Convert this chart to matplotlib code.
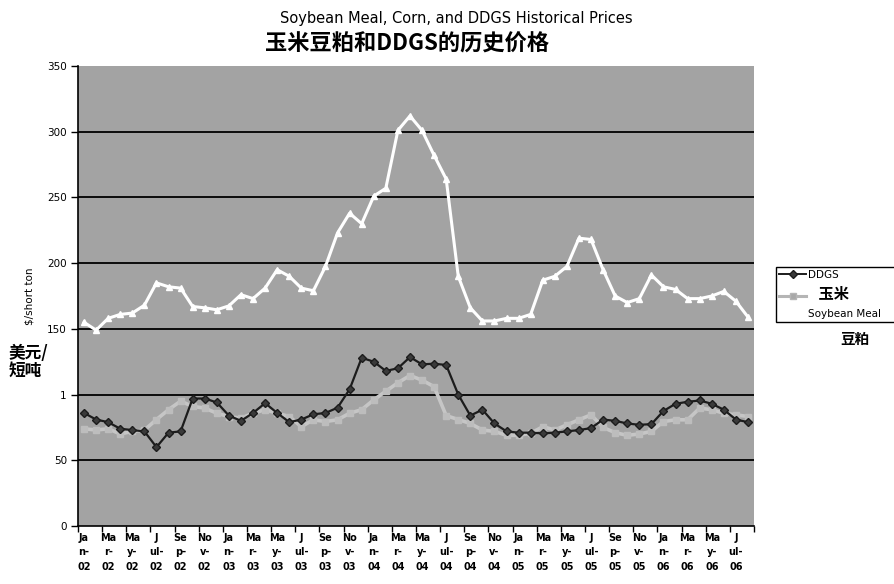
import matplotlib.pyplot as plt
import numpy as np
from matplotlib.lines import Line2D

# monthly prices, Jan-02 .. Aug-06 ($/short ton)
soybean_meal = [155, 149, 158, 161, 162, 168, 185, 182, 181, 167, 166, 164.5,
                167.5, 176, 173, 181, 195, 190, 181, 179, 197.5, 223, 238, 230,
                251, 257, 301, 312, 301, 282, 264, 190, 166, 156, 156, 158,
                158, 161, 187, 190, 197.5, 219, 218, 195, 175, 170, 173, 191,
                182, 180, 173, 173, 175, 178.5, 171, 159]
ddgs = [86, 81, 79, 74, 73, 72, 60, 71, 72, 97, 97, 94,
        84, 80, 86, 93.5, 86, 79, 81, 85, 86, 90, 104, 128,
        125, 118, 120, 128.5, 123, 123.5, 122.5, 100, 84, 88.5, 78, 72,
        71, 71, 70.5, 71, 72, 73, 74.5, 81, 80, 78, 77, 77.5,
        87.5, 93, 94.5, 95.5, 93, 88.5, 81, 79]
corn = [74, 73, 74, 70, 72, 73, 81, 88.5, 95, 91, 89.7, 85.8,
        83.3, 82, 85.8, 88.5, 85.8, 83.3, 75.6, 80.8, 79.5, 80.8, 85.8, 88.5,
        96, 102.5, 109, 114.5, 111, 106, 84, 81, 78, 73, 72, 69,
        69, 70.5, 75.6, 73, 77, 80.8, 84.6, 75, 71, 69, 70, 72,
        79.5, 80.8, 80.8, 89.7, 88.5, 85.8, 84.6, 83.3]

# wrapped month labels as they appear under the axis, one every two months
month_parts = [("Ja", "n-"), ("Ma", "r-"), ("Ma", "y-"), ("J", "ul-"), ("Se", "p-"), ("No", "v-")]
years = ["02", "03", "04", "05", "06"]
tick_labels = [f"{a}\n{b}\n{yy}" for yy in years for a, b in month_parts][:28]

y_ticks = [0, 50, 100, 150, 200, 250, 300, 350]
y_tick_labels = ["0", "50", "1", "150", "200", "250", "300", "350"]

CJK = ["Noto Sans CJK SC", "DejaVu Sans"]

fig = plt.figure(figsize=(8.94, 5.84), dpi=100)
ax = fig.add_axes([78 / 894, 58 / 584, 676 / 894, 460 / 584])
ax.set_facecolor("#a3a3a3")

x = np.arange(len(ddgs))
ax.plot(x, soybean_meal, color="white", lw=2.2, marker="^", ms=4,
        mec="white", mfc="white", zorder=3)
ax.plot(x, corn, color="#c6c6c6", lw=2.6, marker="s", ms=4.5,
        mec="#bdbdbd", mfc="#bdbdbd", zorder=3)
ax.plot(x, ddgs, color="#1c1c1c", lw=1.6, marker="D", ms=4.5,
        mec="#1c1c1c", mfc="#3a3a3a", zorder=4)

ax.set_xlim(-0.5, len(ddgs) - 0.5)
ax.set_ylim(0, 350)
ax.set_yticks(y_ticks)
ax.set_yticklabels(y_tick_labels, fontsize=7.5)
# gridlines between the axis ends only
ax.hlines(y_ticks[1:-1], -0.5, len(ddgs) - 0.5, color="black", lw=1.3, zorder=1)

ax.set_xticks(np.arange(0, 2 * len(tick_labels), 2))
ax.set_xticklabels(tick_labels, fontsize=7, linespacing=1.55, fontweight="bold")
ax.set_xticks(np.arange(-0.5, len(ddgs), 2), minor=True)
ax.tick_params(axis="x", which="major", length=0, pad=5)
ax.tick_params(axis="x", which="minor", length=4, direction="out", width=1)
ax.tick_params(axis="y", length=5, width=1, direction="out", pad=3)

for side in ["top", "right"]:
    ax.spines[side].set_visible(False)
ax.spines["left"].set_linewidth(1.2)
ax.spines["bottom"].set_linewidth(1.2)

fig.text(456 / 894, 1 - 19 / 584, "Soybean Meal, Corn, and DDGS Historical Prices",
         ha="center", va="center", fontsize=10.5)
fig.text(407 / 894, 1 - 44 / 584, "玉米豆粕和DDGS的历史价格", ha="center", va="center",
         fontsize=16, fontweight="bold", family=CJK)

fig.text(30 / 894, 1 - 296 / 584, "$/short ton", rotation=90, ha="center",
         va="center", fontsize=7.5)
fig.text(9 / 894, 1 - 362 / 584, "美元/\n短吨", ha="left", va="center",
         fontsize=12, fontweight="bold", family=CJK, linespacing=1.0)

handles = [
    Line2D([], [], color="#1c1c1c", lw=1.4, marker="D", ms=4.5, mfc="#3a3a3a"),
    Line2D([], [], color="#b5b5b5", lw=2.2, marker="s", ms=4.5, mfc="#a8a8a8"),
    Line2D([], [], color="white", lw=2.2),
]
leg = fig.legend(handles, ["DDGS", "   玉米", "Soybean Meal"],
                 loc="upper left", mode="expand",
                 bbox_to_anchor=(776 / 894, 1 - 324 / 584, 140 / 894, 57 / 584),
                 frameon=True, fancybox=False, edgecolor="black", framealpha=1,
                 borderpad=0.3, handlelength=2.6, handletextpad=0.2,
                 labelspacing=0.6, fontsize=7.5, borderaxespad=0)
leg.get_frame().set_linewidth(1.0)
leg.get_texts()[1].set_fontproperties({"family": CJK, "weight": "bold", "size": 11})
fig.text(840 / 894, 1 - 339 / 584, "豆粕", ha="left", va="center",
         fontsize=10.5, fontweight="bold", family=CJK)

fig.savefig("out.png", dpi=100)
